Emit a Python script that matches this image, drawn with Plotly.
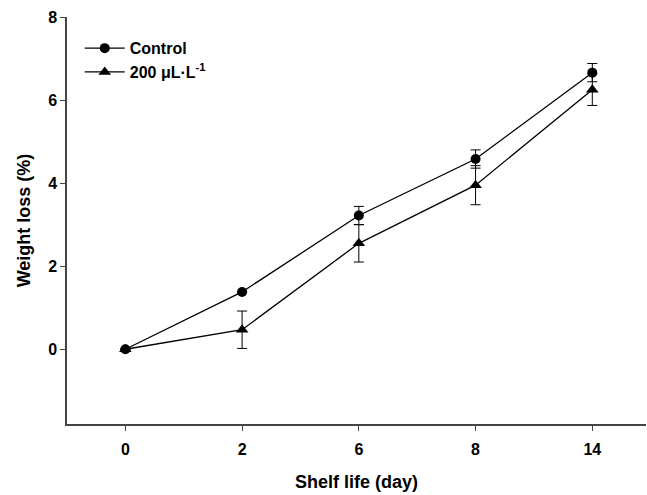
import plotly.graph_objects as go

days = ["0", "2", "6", "8", "14"]
control = [0.0, 1.38, 3.22, 4.58, 6.66]
control_err = [0.0, 0.0, 0.22, 0.22, 0.22]
treat = [0.0, 0.47, 2.55, 3.95, 6.25]
treat_err = [0.0, 0.45, 0.45, 0.47, 0.38]

font_family = "Liberation Sans, Arial, sans-serif"

fig = go.Figure()
fig.add_trace(go.Scatter(
    x=days, y=control, name="Control", mode="lines+markers",
    line=dict(color="black", width=1.3),
    marker=dict(symbol="circle", size=10, color="black"),
    error_y=dict(type="data", array=control_err, color="black", thickness=1, width=5),
))
fig.add_trace(go.Scatter(
    x=days, y=treat, name="200 μL·L<sup>-1</sup>", mode="lines+markers",
    line=dict(color="black", width=1.3),
    marker=dict(symbol="triangle-up", size=11, color="black"),
    error_y=dict(type="data", array=treat_err, color="black", thickness=1, width=5),
))

fig.update_layout(
    width=647, height=495,
    margin=dict(l=67, r=1, t=17, b=71),
    plot_bgcolor="white", paper_bgcolor="white",
    font=dict(family=font_family, color="black", weight="bold"),
    showlegend=True,
    legend=dict(x=0.022, y=0.965, xanchor="left", yanchor="top",
                bgcolor="rgba(0,0,0,0)",
                font=dict(size=16, family=font_family, weight="bold"),
                itemwidth=40, tracegroupgap=4),
    xaxis=dict(
        type="category", range=[-0.5, 4.46],
        showline=True, linecolor="#444", linewidth=1.5,
        ticks="outside", ticklen=5, tickcolor="#444",
        showgrid=False, zeroline=False,
        ticklabelstandoff=5,
        tickfont=dict(size=16, family=font_family, weight="bold"),
        title=dict(text="Shelf life (day)",
                   font=dict(size=18, family=font_family, weight="bold"), standoff=18),
    ),
    yaxis=dict(
        range=[-1.8, 8], tickvals=[0, 2, 4, 6, 8],
        showline=True, linecolor="#444", linewidth=1.5,
        ticks="outside", ticklen=5, tickcolor="#444",
        showgrid=False, zeroline=False,
        tickfont=dict(size=16, family=font_family, weight="bold"),
        title=dict(text="Weight loss (%)",
                   font=dict(size=18, family=font_family, weight="bold"), standoff=13),
    ),
)

fig.write_html("out.html")
